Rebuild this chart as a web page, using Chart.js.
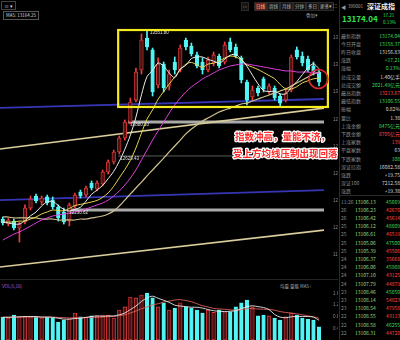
<!DOCTYPE html>
<html lang="zh-CN">
<head>
<meta charset="utf-8">
<title>深证成指 日K</title>
<script src="https://cdn.jsdelivr.net/npm/chart.js@4.4.1/dist/chart.umd.min.js"></script>
<style>
  html, body { margin: 0; padding: 0; background: #000; }
  body { width: 400px; height: 340px; position: relative; overflow: hidden;
         font-family: "Noto Sans CJK SC", "Liberation Sans", sans-serif; color: #aaa; }
  .abs { position: absolute; white-space: nowrap; }
  #kline { position: absolute; left: 0; top: 20px; }
  #vol { position: absolute; left: 0; top: 282px; }
  #panel { position: absolute; left: 339px; top: 0; width: 61px; height: 340px; border-left: 1px solid #2c2c2c; }
  .row { position: absolute; left: 1px; width: 59px; height: 7px; font-size: 5px; line-height: 7px; white-space: nowrap; }
  .row .k { position: absolute; left: 0; color: #8c8c8c; }
  .row .m { position: absolute; left: 14px; color: #8fdc8f; }
  .row .v { position: absolute; right: 0; }
  .tb { position: absolute; top: 2px; height: 7px; font-size: 4.5px; line-height: 7px; color: #bbb;
        background: #141414; border: 1px solid #2a2a2a; padding: 0 1px; white-space: nowrap; }
</style>
</head>
<body>

<div class="abs" style="left:1px;top:1px;font-size:5px;line-height:7px;color:#ddd;border:1px solid #444;padding:0 2px;">≡ ▾</div>
<div class="abs" style="left:3px;top:11px;font-size:4.5px;line-height:7px;color:#ddd;border:1px solid #555;padding:0 2px;">MA5: 13164.25</div>

<div class="tb" style="left:241px;">‹ ›</div>
<div class="tb" style="left:254px;background:#6a1c1c;color:#ffd27a;">日线</div>
<div class="tb" style="left:267px;">周线</div>
<div class="tb" style="left:280px;">月线</div>
<div class="tb" style="left:293px;">分钟</div>
<div class="tb" style="left:306px;">多日</div>
<div class="tb" style="left:318px;">更多▾</div>
<div class="abs" style="left:333px;top:2px;font-size:5px;line-height:7px;color:#bbb;">⛶</div>
<div class="abs" style="left:306px;top:12px;font-size:4.5px;line-height:6px;color:#999;">叠加▾</div>

<canvas id="kline" width="338" height="252"></canvas>
<div class="abs" style="left:0;top:279px;width:338px;height:1px;background:#242424;"></div>
<div class="abs" style="left:2px;top:283px;font-size:4.5px;line-height:6px;color:#c05cc8;">VOL(5,10)</div>
<div class="abs" style="left:280px;top:283px;font-size:4.5px;line-height:6px;color:#aaa;">均量 量能 MA5 ⁝</div>
<canvas id="vol" width="338" height="58"></canvas>

<div id="panel">
  <div class="abs" style="left:1px;top:3px;font-size:5px;line-height:7px;color:#999;">◀</div>
  <div class="abs" style="left:8px;top:3px;font-size:4.5px;line-height:7px;color:#aaa;">399001</div>
  <div class="abs" style="left:27px;top:1px;font-size:7px;line-height:10px;font-weight:bold;color:#f2f2f2;">深证成指</div>
  <div class="abs" style="left:2px;top:13px;font-size:8px;line-height:11px;font-weight:bold;color:#2fe04f;">13174.04</div>
  <div class="abs" style="left:43px;top:12px;font-size:4.5px;line-height:6px;color:#2fe04f;">17.21</div>
  <div class="abs" style="left:43px;top:19px;font-size:4.5px;line-height:6px;color:#2fe04f;">0.13%</div>
  <div class="abs" style="left:0;top:28px;width:61px;height:1px;background:#2a2a2a;"></div>
  <div class="abs" style="left:0;top:195px;width:61px;height:1px;background:#2a2a2a;"></div>
  <div id="rows"></div>
</div>

<script>
// K线（日线），价格
const open  = [12164,12127,12149,12098,12142,12245,12334,12290,12327,12304,
               12253,12216,12149,12260,12363,12341,12430,12386,12423,12511,
               12585,12659,12762,12880,13042,13264,13500,13412,13153,13308,
               13146,13323,13264,13485,13441,13375,13323,13264,13316,13367,
               13323,13471,13434,13353,13175,13065,13131,13198,13102,13131,
               13072,13042,13116,13412,13367,13345,13294,13249];
const close = [12135,12157,12098,12127,12245,12312,12297,12319,12282,12253,
               12172,12142,12268,12341,12334,12393,12393,12430,12511,12585,
               12659,12762,12880,13028,13249,13485,13434,13102,13308,13131,
               13234,13264,13426,13434,13382,13294,13264,13338,13375,13294,
               13449,13412,13367,13190,13042,13116,13094,13124,13146,13057,
               13020,13094,13360,13360,13316,13264,13249,13174.04];
const high  = [12179,12172,12164,12142,12268,12334,12349,12334,12341,12327,
               12268,12245,12282,12356,12378,12408,12445,12445,12526,12600,
               12673,12777,12895,13057,13279,13530,13551.8,13426,13353,13323,
               13264,13360,13449,13500,13463,13397,13353,13360,13397,13382,
               13471,13500,13456,13367,13190,13146,13146,13212,13161,13146,
               13087,13131,13375,13434,13397,13367,13323,13264];
const low   = [12120,12113,12083,11994,12127,12231,12282,12268,12268,12238,
               12149,12127,12113,12245,12319,12327,12378,12371,12408,12496,
               12570,12644,12747,12865,13028,13234,13412,13072,13131,13102,
               13116,13234,13249,13412,13367,13279,13234,13249,13294,13279,
               13308,13397,13353,13168,13006,13042,13072,13102,13087,13042,
               12998,13028,13102,13345,13294,13249,13227,13146];

// 均线
const ma5  = [12142,12135,12127,12127,12152,12188,12216,12260,12291,12293,
              12265,12234,12223,12235,12251,12296,12346,12378,12412,12462,
              12516,12589,12679,12783,12916,13081,13215,13260,13316,13292,
              13242,13208,13273,13298,13348,13360,13360,13342,13330,13313,
              13344,13373,13379,13342,13292,13226,13162,13113,13105,13107,
              13088,13088,13136,13178,13230,13279,13310,13273];
const ma10 = [12142,12142,12142,12149,12149,12164,12179,12201,12216,12231,
              12226,12225,12242,12263,12272,12280,12290,12301,12324,12357,
              12406,12468,12529,12597,12689,12798,12902,12969,13049,13104,
              13161,13212,13266,13307,13320,13301,13284,13308,13314,13330,
              13352,13367,13361,13336,13302,13285,13268,13246,13223,13200,
              13157,13125,13124,13141,13169,13184,13199,13204];
const ma20 = [12009,12031,12053,12068,12090,12112,12135,12157,12172,12186,
              12194,12201,12208,12216,12223,12238,12253,12268,12282,12304,
              12334,12371,12415,12467,12526,12600,12673,12747,12814,12880,
              12947,13006,13057,13102,13139,13168,13198,13220,13242,13264,
              13279,13294,13301,13308,13308,13301,13294,13286,13279,13271,
              13264,13257,13257,13249,13249,13249,13242,13242];
const ma60 = [12179,12179,12172,12172,12172,12172,12172,12164,12164,12164,
              12157,12157,12157,12157,12164,12164,12172,12179,12186,12201,
              12223,12260,12304,12349,12393,12437,12482,12526,12570,12614,
              12659,12703,12747,12792,12829,12858,12888,12910,12932,12954,
              12969,12983,12998,13013,13020,13035,13050,13065,13079,13094,
              13109,13124,13146,13168,13190,13212,13234,13249];

// 成交量（亿手）
const vol = [0.79,0.76,0.86,0.80,0.82,0.80,0.79,0.76,0.79,0.76,
             0.62,0.69,0.72,0.93,0.80,0.78,0.83,0.83,0.86,0.86,
             0.76,1.03,1.14,1.48,1.45,1.55,1.62,1.45,1.14,1.28,
             1.03,1.10,1.28,1.14,1.10,1.03,0.93,1.03,0.95,1.03,
             0.97,0.97,1.14,1.28,1.38,1.14,0.83,0.86,0.83,0.76,
             0.69,0.80,0.93,0.86,0.76,0.72,0.69,0.45];
const volMa5  = [0.78,0.78,0.79,0.80,0.81,0.81,0.81,0.79,0.79,0.78,
                 0.75,0.72,0.72,0.74,0.75,0.78,0.81,0.83,0.82,0.83,
                 0.83,0.87,0.93,1.05,1.17,1.33,1.45,1.51,1.44,1.37,
                 1.30,1.20,1.17,1.15,1.13,1.13,1.10,1.05,1.01,0.99,
                 0.98,0.99,1.01,1.08,1.15,1.18,1.15,1.12,1.05,0.88,
                 0.79,0.77,0.80,0.81,0.81,0.81,0.79,0.68];
const volMa10 = [0.79,0.79,0.79,0.79,0.79,0.79,0.79,0.79,0.79,0.79,
                 0.78,0.77,0.76,0.77,0.77,0.78,0.77,0.78,0.79,0.81,
                 0.81,0.84,0.87,0.93,1.00,1.08,1.14,1.21,1.25,1.31,
                 1.34,1.38,1.39,1.36,1.32,1.25,1.18,1.14,1.09,1.07,
                 1.06,1.04,1.03,1.05,1.08,1.08,1.07,1.06,1.05,1.03,
                 0.98,0.95,0.93,0.90,0.87,0.83,0.80,0.75];

const priceTicks = [11900,12100,12300,12500,12700,12900,13100,13300,13500];
const volTicks = [0.4,0.8,1.2,1.6];

// 画线：[起点序号, 起点价, 终点序号, 终点价]
const trendLines   = [[-0.5,12681,58.1,12984],[-0.5,11810,58.1,12083]];
const channelLines = [[-0.5,12304,58.1,12378],[-0.5,12984,58.1,13050]];
// 水平压力/支撑：[价格, 起点序号, 终点序号]
const bandLevels  = [[12880.10,22.6,58.1],[12230.62,11.6,58.1]];
const faintLevels = [[12629.43,20.8,53.6]];
// 标注框与圆圈
const focusBox = [20.8, 13559, 58.6, 12991];   // 起, 上, 止, 下
const focusMark = [56.9, 13198];
const noteAnchor = [41.5, 12777];
const noteLines = ['指数冲高，量能不济，', '受上方均线压制出现回落'];

// 右侧报价
const quoteLabels = ['最新指数','今日开盘','昨日收盘','涨跌','涨幅','总成交量','总成交额','最高指数','最低指数','振幅',
                     '量比','上涨金额','下跌金额','上涨家数','平盘家数','下跌家数','深证综指','涨跌','深证100','涨跌'];
const quoteValues = ['13174.04','13158.37','13156.83','+17.21','0.13%','1.40亿手','2021.49亿元','13213.67','13106.55','0.82%',
                     '1.38','8475亿元','8705亿元','139','63','108','16082.58','+19.75','7212.58','+19.38'];
const quoteTone   = ['g','g','w','g','g','w','g','r','g','w','w','g','r','r','w','g','w','w','w','w'];
const tickTimes  = ['11:26','26','26','25','25','25','25','24','24','24','24','23','23','23','22','22','22'];
const tickPrices = ['13106.13','13106.23','13106.42','13106.12','13106.61','13105.06','13105.39','13106.37','13106.06',
                    '13107.10','13107.79','13108.46','13108.14','13108.54','13108.55','13108.58','13108.31'];
const tickVols   = ['45669','42670','45614','48809','46519','47500','45506','35668','45968',
                    '43125','44879','45850','54823','47958','43113','46255','44720'];
const tickTone   = ['g','r','r','g','r','g','r','r','g','r','r','g','r','r','r','g','r'];

const TONE = { g: '#3fdc5a', r: '#ff4646', w: '#d8d8d8' };
const RED = '#f03c3c', RED_FILL = '#4c1414', CYAN = '#52f4f4';

const rowsEl = document.getElementById('rows');
quoteLabels.forEach((k, i) => {
  const d = document.createElement('div');
  d.className = 'row';
  d.style.top = (31.5 + i * 8.2) + 'px';
  d.innerHTML = '<span class="k">' + k + '</span><span class="v" style="color:' + TONE[quoteTone[i]] + '">' + quoteValues[i] + '</span>';
  rowsEl.appendChild(d);
});
tickTimes.forEach((t, i) => {
  const d = document.createElement('div');
  d.className = 'row';
  d.style.top = (197.5 + i * 8.2) + 'px';
  d.innerHTML = '<span class="k">' + t + '</span><span class="m">' + tickPrices[i] + '</span>' +
                '<span class="v" style="color:' + TONE[tickTone[i]] + '">' + tickVols[i] + '</span>';
  rowsEl.appendChild(d);
});

Chart.defaults.font.family = '"Liberation Sans", sans-serif';

const idx = close.map((_, i) => i);
const isUp = idx.map(i => close[i] >= open[i]);

function tightAxis(scale) {
  scale.width = 14;
  scale.paddingTop = 0;
  scale.paddingBottom = 0;
}

function maLine(arr, color, width) {
  return { type: 'line', data: arr.map((v, i) => ({ x: i, y: v })), borderColor: color,
           borderWidth: width, pointRadius: 0, tension: 0.3, order: 0 };
}

function segment(p, color, width) {
  return { type: 'line', data: [{ x: p[0], y: p[1] }, { x: p[2], y: p[3] }], borderColor: color,
           borderWidth: width, pointRadius: 0, order: 3 };
}

function level(p, color, width) {
  return segment([p[1], p[0], p[2], p[0]], color, width);
}

const overlay = {
  id: 'overlay',
  afterDatasetsDraw(chart) {
    const { ctx, scales: { x, y } } = chart;
    ctx.save();

    // 价位标签
    ctx.font = '4.5px "Liberation Sans"';
    ctx.fillStyle = '#e0e0e0';
    ctx.textBaseline = 'middle';
    bandLevels.concat(faintLevels).forEach(l => {
      ctx.fillText(l[0].toFixed(2), x.getPixelForValue(l[1]) + 2, y.getPixelForValue(l[0]) + 3);
    });
    const top = Math.max(...high), ti = high.indexOf(top);
    ctx.fillText(top.toFixed(2), x.getPixelForValue(ti) + 3, y.getPixelForValue(top) + 2);

    // 黄色框
    const bx0 = x.getPixelForValue(focusBox[0]), bx1 = x.getPixelForValue(focusBox[2]);
    const by0 = y.getPixelForValue(focusBox[1]), by1 = y.getPixelForValue(focusBox[3]);
    ctx.strokeStyle = '#f4ec1e';
    ctx.lineWidth = 2.2;
    ctx.strokeRect(bx0, by0, bx1 - bx0, by1 - by0);

    // 红圈
    ctx.strokeStyle = '#e8262e';
    ctx.lineWidth = 1.6;
    ctx.beginPath();
    ctx.arc(x.getPixelForValue(focusMark[0]), y.getPixelForValue(focusMark[1]), 9.5, 0, Math.PI * 2);
    ctx.stroke();

    // 文字说明
    ctx.font = 'bold 9.5px "Noto Sans CJK SC"';
    ctx.textBaseline = 'middle';
    ctx.lineJoin = 'round';
    const tx = x.getPixelForValue(noteAnchor[0]), ty = y.getPixelForValue(noteAnchor[1]);
    noteLines.forEach((s, k) => {
      const px = tx + (k === 0 ? 2 : 0), py = ty + k * 17;
      ctx.lineWidth = 2.6;
      ctx.strokeStyle = '#ffffff';
      ctx.strokeText(s, px, py);
      ctx.fillStyle = '#ff2a2a';
      ctx.fillText(s, px, py);
    });
    ctx.restore();
  }
};

// 柱图默认 offset:true 会在两侧留空，这里关掉
const xAxis = { type: 'linear', min: -0.5, max: 57.9, offset: false, display: false };

new Chart(document.getElementById('kline'), {
  type: 'bar',
  data: {
    datasets: [
      maLine(ma5, '#ececec', 1),
      maLine(ma10, '#e6d64a', 1),
      maLine(ma20, '#de3fe0', 1),
      maLine(ma60, '#cfc18c', 1.2),
      {
        label: 'body', order: 1, grouped: false, barThickness: 3.6, minBarLength: 1,
        data: idx.map(i => ({ x: i, y: [open[i], close[i]] })),
        backgroundColor: isUp.map(u => u ? RED_FILL : CYAN),
        borderColor: isUp.map(u => u ? RED : CYAN),
        borderWidth: 0.8, borderSkipped: false
      },
      {
        label: 'wick', order: 2, grouped: false, barThickness: 1,
        data: idx.map(i => ({ x: i, y: [low[i], high[i]] })),
        backgroundColor: isUp.map(u => u ? RED : CYAN)
      },
      ...trendLines.map(p => segment(p, '#d9cd9c', 1.6)),
      ...channelLines.map(p => segment(p, '#3636b4', 1.8)),
      ...bandLevels.map(p => level(p, 'rgba(200,200,200,0.85)', 3.2)),
      ...faintLevels.map(p => level(p, 'rgba(150,150,150,0.6)', 1))
    ]
  },
  options: {
    responsive: false,
    animation: false,
    layout: { padding: 0 },
    plugins: { legend: { display: false }, tooltip: { enabled: false } },
    scales: {
      x: xAxis,
      y: {
        position: 'right', min: 11773, max: 13633,
        afterBuildTicks: s => { s.ticks = priceTicks.map(v => ({ value: v })); },
        afterFit: tightAxis,
        grid: { display: false }, border: { display: false },
        ticks: { color: '#8a8a8a', font: { size: 4.5 }, padding: 1, callback: v => v.toFixed(0) }
      }
    }
  },
  plugins: [overlay]
});

new Chart(document.getElementById('vol'), {
  type: 'bar',
  data: {
    datasets: [
      maLine(volMa5, '#e8e8e8', 0.9),
      maLine(volMa10, '#e0605a', 0.9),
      {
        label: 'vol', order: 1, grouped: false, barThickness: 3.6,
        data: idx.map(i => ({ x: i, y: vol[i] })),
        backgroundColor: isUp.map(u => u ? RED_FILL : CYAN),
        borderColor: isUp.map(u => u ? RED : CYAN),
        borderWidth: 0.8, borderSkipped: false
      }
    ]
  },
  options: {
    responsive: false,
    animation: false,
    layout: { padding: 0 },
    plugins: { legend: { display: false }, tooltip: { enabled: false } },
    scales: {
      x: xAxis,
      y: {
        position: 'right', min: 0, max: 2,
        afterBuildTicks: s => { s.ticks = volTicks.map(v => ({ value: v })); },
        afterFit: tightAxis,
        grid: { display: false }, border: { display: false },
        ticks: { color: '#8a8a8a', font: { size: 4.5 }, padding: 1, callback: v => v.toFixed(1) }
      }
    }
  }
});
</script>
</body>
</html>
